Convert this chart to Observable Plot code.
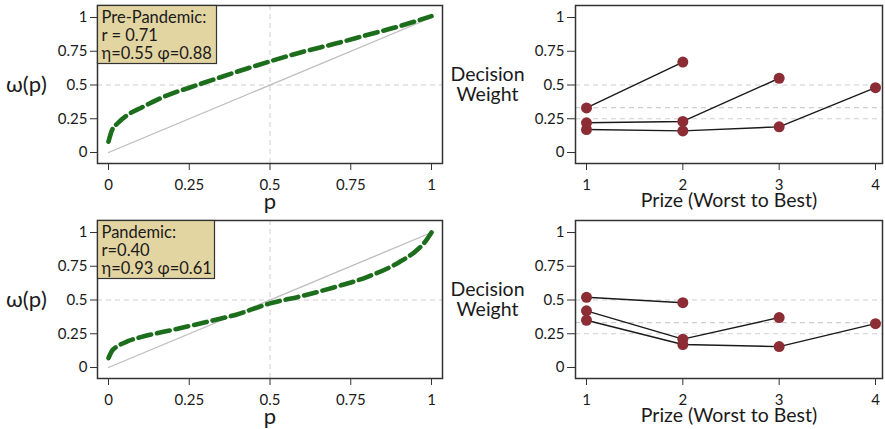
<!DOCTYPE html>
<html>
<head>
<meta charset="utf-8">
<script src="https://cdn.jsdelivr.net/npm/d3@7"></script>
<script src="https://cdn.jsdelivr.net/npm/@observablehq/plot@0.6"></script>
<style>
  body { margin: 0; background: #fff; }
  #wrap { position: relative; width: 885px; height: 429px; overflow: hidden; font-family: Lato, "Open Sans", sans-serif; }
  .panel { position: absolute; }
</style>
</head>
<body>
<div id="wrap">
  <div class="panel" id="tl" style="left:0px; top:0px;"></div>
  <div class="panel" id="tr" style="left:445px; top:0px;"></div>
  <div class="panel" id="bl" style="left:0px; top:215px;"></div>
  <div class="panel" id="br" style="left:445px; top:215px;"></div>
</div>
<script>
// ---- Data ----
const pTicks = [0, 0.25, 0.5, 0.75, 1];
const prizeTicks = [1, 2, 3, 4];
const diagonal = [0, 1];
const refWeights = [0.5, 0.333, 0.25];

// Probability weighting curves
const pPre = [0, 0.01, 0.03, 0.06, 0.1, 0.15, 0.2, 0.25, 0.3, 0.4, 0.5, 0.6, 0.7, 0.8, 0.9, 1];
const wPre = [0.08, 0.16, 0.22, 0.28, 0.33, 0.39, 0.44, 0.48, 0.52, 0.6, 0.675, 0.745, 0.805, 0.87, 0.935, 1.01];
const pPan = [0, 0.01, 0.03, 0.06, 0.1, 0.2, 0.3, 0.4, 0.5, 0.6, 0.7, 0.8, 0.9, 0.95, 0.98, 1];
const wPan = [0.07, 0.12, 0.16, 0.195, 0.225, 0.28, 0.335, 0.395, 0.475, 0.53, 0.595, 0.67, 0.78, 0.86, 0.93, 1.0];

// Decision weights by prize (lotteries with 2, 3, 4 prizes)
const pre2 = [0.33, 0.67];
const pre3 = [0.22, 0.23, 0.55];
const pre4 = [0.17, 0.16, 0.19, 0.48];
const pan2 = [0.52, 0.48];
const pan3 = [0.42, 0.21, 0.37];
const pan4 = [0.35, 0.17, 0.155, 0.325];

const preLabel = ["Pre-Pandemic:", "r = 0.71", "η=0.55 φ=0.88"];
const panLabel = ["Pandemic:", "r=0.40", "η=0.93 φ=0.61"];

// ---- Styling ----
const GREEN = "#1c6e1c";
const MAROON = "#8c2c34";
const FRAME = "#333333";
const REF = "#cfcfcf";
const TAN = "#e2d5a2";

const common = {
  width: 450, height: 214,
  marginTop: 5, marginBottom: 51,
  style: { fontFamily: "Lato, 'Open Sans', sans-serif", fontSize: "15px", color: "#1a1a1a", background: "#fff", overflow: "visible" }
};

function toRows(xs, ys) { return xs.map((x, i) => ({ x, y: ys[i] })); }
function prizeRows(sets) {
  const rows = [];
  sets.forEach((vals, s) => vals.forEach((v, i) => rows.push({ set: s, prize: i + 1, w: v })));
  return rows;
}

function annotBox(w, h) {
  return (index, scales, values, dims) => {
    const g = d3.create("svg:g");
    g.append("rect")
      .attr("x", dims.marginLeft + 0.5)
      .attr("y", dims.marginTop + 0.5)
      .attr("width", w).attr("height", h)
      .attr("fill", TAN).attr("stroke", FRAME).attr("stroke-width", 1.2);
    return g.node();
  };
}

function leftPanel(ps, ws, label, boxW) {
  return Plot.plot({
    ...common,
    marginLeft: 97, marginRight: 8,
    x: { domain: [0, 1], insetLeft: 11, insetRight: 11 },
    y: { domain: [0, 1], insetTop: 12, insetBottom: 11 },
    marks: [
      Plot.ruleY([0.5], { stroke: REF, strokeDasharray: "5,4", strokeWidth: 1 }),
      Plot.ruleX([0.5], { stroke: REF, strokeDasharray: "5,4", strokeWidth: 1 }),
      Plot.line(diagonal, { x: d => d, y: d => d, stroke: "#bdbdbd", strokeWidth: 1.3 }),
      Plot.line(toRows(ps, ws), { x: "x", y: "y", stroke: GREEN, strokeWidth: 4.6, strokeDasharray: "13,6", curve: "monotone-x" }),
      Plot.frame({ stroke: FRAME, strokeWidth: 1.5 }),
      Plot.axisY(pTicks, { tickSize: 7, tickPadding: 3, label: null, tickFormat: d => String(d), fontSize: 15, stroke: FRAME }),
      Plot.axisX(pTicks, { tickSize: 7, tickPadding: 9, label: null, tickFormat: d => String(d), fontSize: 15, stroke: FRAME }),
      annotBox(boxW, 58),
      Plot.text([label.join("\n")], { frameAnchor: "top-left", dx: 4, dy: 5, lineAnchor: "top", textAnchor: "start", lineHeight: 1.08, fontSize: 16.5, fill: "#1a1a1a" }),
      Plot.text(["ω(p)"], { frameAnchor: "left", dx: -71, textAnchor: "middle", fontSize: 22, fill: "#1a1a1a" }),
      Plot.text(["p"], { frameAnchor: "bottom", dy: 45, fontSize: 22, fill: "#1a1a1a" })
    ]
  });
}

function rightPanel(sets) {
  const rows = prizeRows(sets);
  return Plot.plot({
    ...common,
    width: 440,
    marginLeft: 130, marginRight: 3,
    x: { domain: [1, 4], insetLeft: 11, insetRight: 7 },
    y: { domain: [0, 1], insetTop: 12, insetBottom: 11 },
    marks: [
      Plot.ruleY(refWeights, { stroke: REF, strokeDasharray: "5,4", strokeWidth: 1.2 }),
      Plot.line(rows, { x: "prize", y: "w", z: "set", stroke: "#1a1a1a", strokeWidth: 1.4 }),
      Plot.dot(rows, { x: "prize", y: "w", r: 5.5, fill: MAROON, stroke: "none" }),
      Plot.frame({ stroke: FRAME, strokeWidth: 1.5 }),
      Plot.axisY(pTicks, { tickSize: 8, tickPadding: 3, label: null, tickFormat: d => String(d), fontSize: 15, stroke: FRAME }),
      Plot.axisX(prizeTicks, { tickSize: 7, tickPadding: 9, label: null, tickFormat: d => String(d), fontSize: 15, stroke: FRAME }),
      Plot.text(["Decision\nWeight"], { frameAnchor: "left", dx: -88, textAnchor: "middle", lineHeight: 1.05, fontSize: 19.5, fill: "#1a1a1a" }),
      Plot.text(["Prize (Worst to Best)"], { frameAnchor: "bottom", dy: 43, fontSize: 19.5, fill: "#1a1a1a" })
    ]
  });
}

document.getElementById("tl").append(leftPanel(pPre, wPre, preLabel, 119));
document.getElementById("tr").append(rightPanel([pre2, pre3, pre4]));
document.getElementById("bl").append(leftPanel(pPan, wPan, panLabel, 117));
document.getElementById("br").append(rightPanel([pan2, pan3, pan4]));
</script>
</body>
</html>
